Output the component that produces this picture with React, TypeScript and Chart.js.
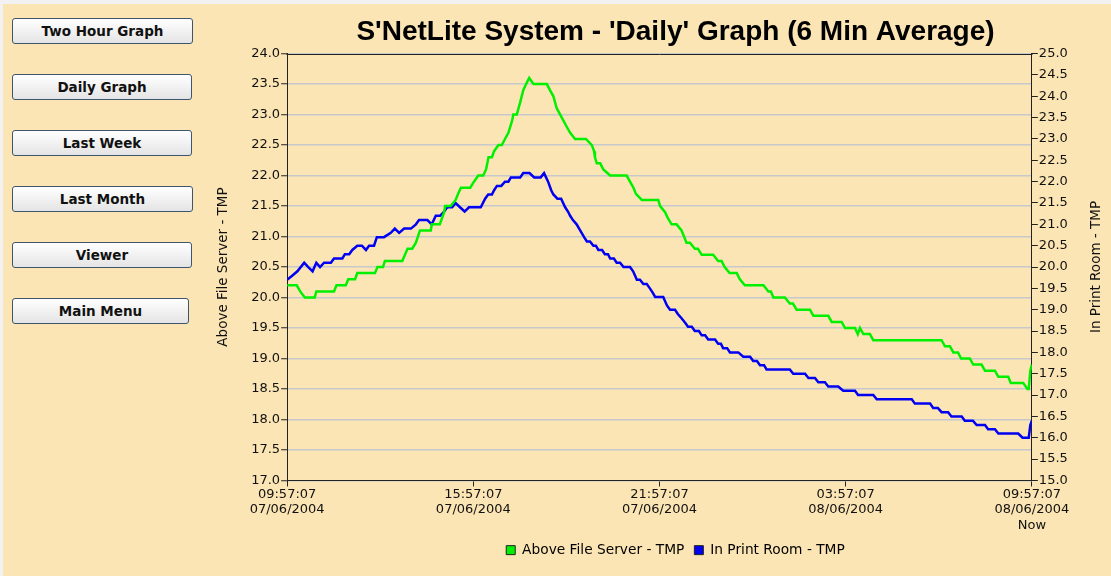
import React, { useEffect, useRef } from "react";
import { Chart, registerables } from "chart.js";

Chart.register(...registerables);

// ---- data (hours since 09:57:07 07/06/2004, temperatures) ----
const greenHours = [
  0, 0.31, 0.42, 0.57, 0.89, 0.94, 1.51, 1.59, 1.89, 1.97, 2.19, 2.26, 2.83, 2.91, 3.09, 3.15, 3.71, 3.88, 4.03, 4.15,
  4.28, 4.63, 4.66, 4.92, 4.99, 5.06, 5.09, 5.27, 5.43, 5.51, 5.6, 5.9, 6.02, 6.16, 6.32, 6.41, 6.49, 6.6, 6.67, 6.81,
  6.92, 7.02, 7.13, 7.25, 7.29, 7.4, 7.51, 7.61, 7.7, 7.8, 7.94, 8.37, 8.47, 8.58, 8.69, 8.8, 9.01, 9.12, 9.28, 9.63,
  9.82, 9.89, 9.92, 9.98, 10.09, 10.19, 10.41, 10.94, 11.05, 11.16, 11.24, 11.43, 11.96, 12.02, 12.18, 12.27, 12.39,
  12.55, 12.71, 12.79, 12.87, 12.98, 13.14, 13.24, 13.36, 13.73, 13.89, 14.0, 14.1, 14.26, 14.49, 14.59, 14.75, 15.35,
  15.51, 15.59, 15.67, 16.04, 16.2, 16.3, 16.42, 16.85, 16.96, 17.44, 17.55, 17.87, 17.98, 18.3, 18.39, 18.46, 18.57,
  18.78, 18.89, 21.09, 21.2, 21.36, 21.47, 21.62, 21.72, 22.0, 22.11, 22.38, 22.49, 22.81, 22.92, 23.24, 23.32, 23.72,
  23.86, 23.9, 23.95, 24.0,
];
const greenTemps = [
  20.2, 20.2, 20.1, 20.0, 20.0, 20.1, 20.1, 20.2, 20.2, 20.3, 20.3, 20.4, 20.4, 20.5, 20.5, 20.6, 20.6, 20.8, 20.8, 20.9,
  21.1, 21.1, 21.2, 21.2, 21.3, 21.4, 21.5, 21.5, 21.6, 21.7, 21.8, 21.8, 21.9, 22.0, 22.0, 22.1, 22.3, 22.3, 22.4, 22.5,
  22.5, 22.6, 22.7, 22.9, 23.0, 23.0, 23.2, 23.4, 23.5, 23.6, 23.5, 23.5, 23.4, 23.3, 23.1, 23.0, 22.8, 22.7, 22.6, 22.6,
  22.5, 22.4, 22.3, 22.2, 22.2, 22.1, 22.0, 22.0, 21.9, 21.8, 21.7, 21.6, 21.6, 21.5, 21.4, 21.3, 21.2,
  21.2, 21.1, 21.0, 20.9, 20.9, 20.8, 20.8, 20.7, 20.7, 20.6, 20.6, 20.5, 20.4, 20.4, 20.3, 20.2, 20.2,
  20.1, 20.1, 20.0, 20.0, 19.9, 19.9, 19.8, 19.8, 19.7, 19.7, 19.6, 19.6, 19.5, 19.5, 19.4, 19.5, 19.4,
  19.4, 19.3, 19.3, 19.2, 19.2, 19.1, 19.1, 19.0, 19.0, 18.9, 18.9, 18.8, 18.8, 18.7, 18.7, 18.6, 18.6,
  18.5, 18.5, 18.8, 18.9,
];
const blueHours = [
  0, 0.17, 0.33, 0.55, 0.68, 0.82, 0.94, 1.06, 1.19, 1.41, 1.51, 1.78, 1.86, 2.0, 2.1, 2.26, 2.41, 2.54, 2.64, 2.8,
  2.89, 3.12, 3.34, 3.47, 3.61, 3.77, 3.99, 4.15, 4.25, 4.52, 4.66, 4.79, 4.93, 5.06, 5.16, 5.32, 5.43, 5.57, 5.72, 5.86,
  6.24, 6.38, 6.48, 6.6, 6.67, 6.76, 6.9, 7.02, 7.13, 7.21, 7.51, 7.61, 7.81, 7.96, 8.17, 8.28, 8.41, 8.51, 8.58, 8.71,
  8.83, 8.96, 9.05, 9.12, 9.21, 9.33, 9.41, 9.49, 9.57, 9.66, 9.76, 9.87, 9.95, 10.03, 10.15, 10.24, 10.34, 10.41, 10.53,
  10.62, 10.73, 10.84, 11.05, 11.15, 11.21, 11.27, 11.37, 11.48, 11.59, 11.69, 11.78, 11.86, 12.12, 12.24, 12.34, 12.5,
  12.59, 12.71, 12.82, 12.92, 13.04, 13.14, 13.27, 13.36, 13.47, 13.57, 13.79, 13.89, 13.98, 14.05, 14.18, 14.27, 14.54,
  14.7, 14.92, 15.02, 15.14, 15.24, 15.37, 15.45, 16.2, 16.31, 16.69, 16.8, 17.01, 17.12, 17.33, 17.44, 17.76, 17.92,
  18.3, 18.4, 18.89, 19.0, 20.13, 20.23, 20.72, 20.82, 20.97, 21.09, 21.3, 21.41, 21.74, 21.84, 22.1, 22.22, 22.49,
  22.59, 22.81, 22.92, 23.56, 23.7, 23.9, 23.95, 24.0,
];
const blueTemps = [
  19.7, 19.8, 19.9, 20.1, 20.0, 19.9, 20.1, 20.0, 20.1, 20.1, 20.2, 20.2, 20.3, 20.3, 20.4, 20.5, 20.5, 20.4, 20.5, 20.5,
  20.7, 20.7, 20.8, 20.9, 20.8, 20.9, 20.9, 21.0, 21.1, 21.1, 21.0, 21.2, 21.2, 21.3, 21.4, 21.4, 21.5, 21.4, 21.3, 21.4,
  21.4, 21.6, 21.7, 21.7, 21.8, 21.9, 21.9, 22.0, 22.0, 22.1, 22.1, 22.2, 22.2, 22.1, 22.1, 22.2, 22.0, 21.8, 21.7, 21.6,
  21.6, 21.4, 21.3, 21.2, 21.1, 21.0, 20.9, 20.8, 20.7, 20.6, 20.6, 20.5, 20.5, 20.4, 20.4, 20.3, 20.3, 20.2, 20.2,
  20.1, 20.1, 20.0, 20.0, 19.9, 19.8, 19.7, 19.7, 19.6, 19.6, 19.5, 19.4, 19.3, 19.3, 19.1, 19.0, 19.0,
  18.9, 18.8, 18.7, 18.6, 18.6, 18.5, 18.5, 18.4, 18.4, 18.3, 18.3, 18.2, 18.2, 18.1, 18.1, 18.0, 18.0,
  17.9, 17.9, 17.8, 17.8, 17.7, 17.7, 17.6, 17.6, 17.5, 17.5, 17.4, 17.4, 17.3, 17.3, 17.2, 17.2, 17.1,
  17.1, 17.0, 17.0, 16.9, 16.9, 16.8, 16.8, 16.7, 16.7, 16.6, 16.6, 16.5, 16.5, 16.4, 16.4, 16.3, 16.3,
  16.2, 16.2, 16.1, 16.1, 16.0, 16.0, 16.3, 16.4,
];

const seriesNames = ["Above File Server - TMP", "In Print Room - TMP"];
const seriesColors = ["#00f000", "#0000f2"];
const tickHours = [0, 6, 12, 18, 24];
const tickTimes = ["09:57:07", "15:57:07", "21:57:07", "03:57:07", "09:57:07"];
const tickDates = ["07/06/2004", "07/06/2004", "07/06/2004", "08/06/2004", "08/06/2004"];
const tickExtras = ["", "", "", "", "Now"];
const chartTitle = "S'NetLite System - 'Daily' Graph (6 Min Average)";
const buttonLabels = ["Two Hour Graph", "Daily Graph", "Last Week", "Last Month", "Viewer", "Main Menu"];

// ---- styling constants ----
const BG = "#fce5b4";
const FONT = "'DejaVu Sans', sans-serif";
const CENTER_SHIFT = 17.5;
const AXIS_TITLE_SIZE = 13.5;
const Y1_TITLE_PAD_TOP = 3;
const BUTTON_WIDTHS = [181, 180, 180, 181, 180, 177];

const framePlugin = {
  id: "frameAndShift",
  afterLayout(chart: any) {
    const t = chart.titleBlock;
    if (t) {
      t.left += CENTER_SHIFT;
      t.right += CENTER_SHIFT;
    }
    const l = chart.legend;
    if (l) {
      l.left += CENTER_SHIFT;
      l.right += CENTER_SHIFT;
    }
  },
  afterDraw(chart: any) {
    const ctx = chart.ctx;
    const a = chart.chartArea;
    ctx.save();
    ctx.strokeStyle = "#222";
    ctx.lineWidth = 1;
    ctx.beginPath();
    ctx.moveTo(Math.round(a.left) - 0.5, Math.round(a.top) + 0.5);
    ctx.lineTo(Math.round(a.right) + 0.5, Math.round(a.top) + 0.5);
    ctx.stroke();
    // right axis title, reading bottom-to-top like the left one
    const s = chart.scales.y1;
    const lh = AXIS_TITLE_SIZE * 1.2;
    const x = s.right - Y1_TITLE_PAD_TOP - lh / 2;
    const y = (s.top + s.bottom) / 2;
    ctx.translate(x, y);
    ctx.rotate(-Math.PI / 2);
    ctx.font = AXIS_TITLE_SIZE + "px " + FONT;
    ctx.fillStyle = "#111";
    ctx.textAlign = "center";
    ctx.textBaseline = "middle";
    ctx.fillText(seriesNames[1], 0, 0);
    ctx.restore();
  },
};

export default function App() {
  const ref = useRef<HTMLCanvasElement | null>(null);

  useEffect(() => {
    if (!ref.current) return;
    const greenData = greenHours.map((h, i) => ({ x: h, y: greenTemps[i] }));
    const blueData = blueHours.map((h, i) => ({ x: h, y: blueTemps[i] }));
    const chart = new Chart(ref.current, {
      type: "line",
      data: {
        datasets: [
          {
            label: seriesNames[0],
            data: greenData,
            borderColor: seriesColors[0],
            backgroundColor: seriesColors[0],
            borderWidth: 2.5,
            pointRadius: 0,
            tension: 0,
            yAxisID: "y",
          },
          {
            label: seriesNames[1],
            data: blueData,
            borderColor: seriesColors[1],
            backgroundColor: seriesColors[1],
            borderWidth: 2.5,
            pointRadius: 0,
            tension: 0,
            yAxisID: "y1",
          },
        ],
      },
      options: {
        responsive: false,
        maintainAspectRatio: false,
        animation: false,
        devicePixelRatio: 1,
        layout: { padding: { left: 8, right: 3, top: 0, bottom: 9 } },
        font: { family: FONT, size: 13 },
        color: "#111",
        plugins: {
          title: {
            display: true,
            text: chartTitle,
            color: "#000",
            font: { family: "'Liberation Sans', Arial, sans-serif", size: 28, weight: "bold" },
            padding: { top: 15, bottom: 5 },
          },
          legend: {
            display: true,
            position: "bottom",
            labels: {
              boxWidth: 9,
              boxHeight: 9,
              padding: 10,
              color: "#111",
              font: { family: FONT, size: 13.75 },
              generateLabels: (ch: any) =>
                ch.data.datasets.map((d: any, i: number) => ({
                  text: d.label,
                  fillStyle: seriesColors[i],
                  strokeStyle: "#222",
                  lineWidth: 1,
                  hidden: false,
                  datasetIndex: i,
                })),
            },
          },
          tooltip: { enabled: false },
        },
        scales: {
          x: {
            type: "linear",
            position: "bottom",
            min: 0,
            max: 24,
            ticks: {
              stepSize: 6,
              autoSkip: false,
              maxRotation: 0,
              padding: 0,
              color: "#111",
              font: { family: FONT, size: 13 },
              callback: (v: any) => {
                const i = tickHours.findIndex((h) => Math.abs(h - Number(v)) < 1e-6);
                if (i < 0) return "";
                return [tickTimes[i], tickDates[i], tickExtras[i]].filter((s) => s !== "");
              },
            },
            grid: { drawOnChartArea: false, drawTicks: true, tickLength: 6, tickColor: "#222", tickWidth: 1 },
            border: { display: true, color: "#222", width: 1 },
          },
          y: {
            type: "linear",
            position: "left",
            min: 17,
            max: 24,
            ticks: {
              stepSize: 0.5,
              padding: 1,
              color: "#111",
              font: { family: FONT, size: 13 },
              callback: (v: any) => Number(v).toFixed(1),
            },
            grid: { color: "#c6c8cc", lineWidth: 1.5, tickLength: 6, tickColor: "#222", tickWidth: 1 },
            border: { display: true, color: "#222", width: 1 },
            title: {
              display: true,
              text: seriesNames[0],
              color: "#111",
              font: { family: FONT, size: AXIS_TITLE_SIZE },
              padding: { top: 7, bottom: 19 },
            },
          },
          y1: {
            type: "linear",
            position: "right",
            min: 15,
            max: 25,
            ticks: {
              stepSize: 0.5,
              padding: 1,
              color: "#111",
              font: { family: FONT, size: 13 },
              callback: (v: any) => Number(v).toFixed(1),
            },
            grid: { drawOnChartArea: false, tickLength: 6, tickColor: "#222", tickWidth: 1 },
            border: { display: true, color: "#222", width: 1 },
            title: {
              display: true,
              text: seriesNames[1],
              color: "rgba(0,0,0,0)",
              font: { family: FONT, size: AXIS_TITLE_SIZE },
              padding: { top: Y1_TITLE_PAD_TOP, bottom: 20 },
            },
          },
        },
      },
      plugins: [framePlugin],
    } as any);
    return () => chart.destroy();
  }, []);

  return (
    <div
      style={{
        position: "fixed",
        left: 0,
        top: 0,
        width: 1111,
        height: 576,
        background: "#f2f2f2",
        overflow: "hidden",
      }}
    >
      <div style={{ position: "absolute", left: 3, top: 4, right: 0, bottom: 0, background: BG }} />
      {buttonLabels.map((b, i) => (
        <button
          key={b}
          style={{
            position: "absolute",
            left: 12,
            top: 18 + i * 56,
            width: BUTTON_WIDTHS[i],
            height: 26,
            boxSizing: "border-box",
            border: "1px solid #3d556e",
            borderRadius: 3,
            background: "linear-gradient(#ffffff, #e4e4e4)",
            fontFamily: FONT,
            fontWeight: "bold",
            fontSize: 13.5,
            color: "#111",
            padding: 0,
            cursor: "pointer",
          }}
        >
          {b}
        </button>
      ))}
      <canvas
        ref={ref}
        width={911}
        height={576}
        style={{ position: "absolute", left: 200, top: 0, width: 911, height: 576 }}
      />
    </div>
  );
}
